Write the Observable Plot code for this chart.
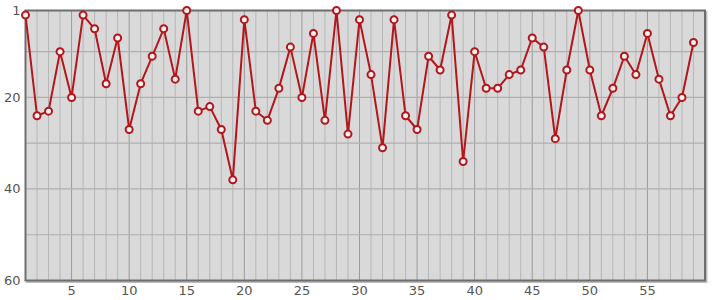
<!DOCTYPE html>
<html>
<head>
<meta charset="utf-8">
<script src="https://cdn.jsdelivr.net/npm/d3@7"></script>
<script src="https://cdn.jsdelivr.net/npm/@observablehq/plot@0.6"></script>
<style>
  html, body { margin: 0; padding: 0; background: #fff; }
  #chart { width: 715px; height: 300px; }
</style>
</head>
<body>
<div id="chart"></div>
<script>
const xs = d3.range(1, 60);
const values = [2, 24, 23, 10, 20, 2, 5, 17, 7, 27,
                17, 11, 5, 16, 1, 23, 22, 27, 38, 3,
                23, 25, 18, 9, 20, 6, 25, 1, 28, 3,
                15, 31, 3, 24, 27, 11, 14, 2, 34, 10,
                18, 18, 15, 14, 7, 9, 29, 14, 1, 14,
                24, 18, 11, 15, 6, 16, 24, 20, 8];
const xTicks = [5, 10, 15, 20, 25, 30, 35, 40, 45, 50, 55];
const yTicks = [1, 20, 40, 60];
const yGrid = [10, 20, 30, 40, 50];
const xMinorGrid = d3.range(2, 60).filter(d => d % 5 !== 0);
const xMajorGrid = d3.range(5, 60, 5);

const data = xs.map((x, i) => ({x, v: values[i]}));
const red = "#b3161b";

const chart = Plot.plot({
  width: 715,
  height: 300,
  marginLeft: 25,
  marginRight: 10.5,
  marginTop: 10,
  marginBottom: 20,
  style: {fontFamily: "DejaVu Sans", fontSize: "13px", color: "#555", background: "#fff"},
  x: {domain: [1, 60]},
  y: {domain: [1, 60], reverse: true},
  marks: [
    Plot.frame({stroke: "#bdbdbd", strokeWidth: 2, dx: 1.5, dy: 1.5}),
    Plot.frame({fill: "#d9d9d9"}),
    Plot.ruleX(xMinorGrid, {stroke: "#b6b6b6", strokeWidth: 1}),
    Plot.ruleX(xMajorGrid, {stroke: "#9a9a9a", strokeWidth: 1}),
    Plot.ruleY(yGrid, {stroke: "#afafaf", strokeWidth: 1.2}),
    Plot.frame({stroke: "#6e6e6e", strokeWidth: 2}),
    Plot.axisY({ticks: yTicks, tickSize: 0, tickPadding: 5, fontSize: 13, label: null}),
    Plot.axisX({ticks: xTicks, tickSize: 0, tickPadding: 5, fontSize: 13, label: null}),
    Plot.line(data, {x: "x", y: "v", stroke: red, strokeWidth: 2}),
    Plot.dot(data, {x: "x", y: "v", r: 3.5, stroke: red, strokeWidth: 2, fill: "#f2f2f2"})
  ]
});
document.getElementById("chart").appendChild(chart);
</script>
</body>
</html>
